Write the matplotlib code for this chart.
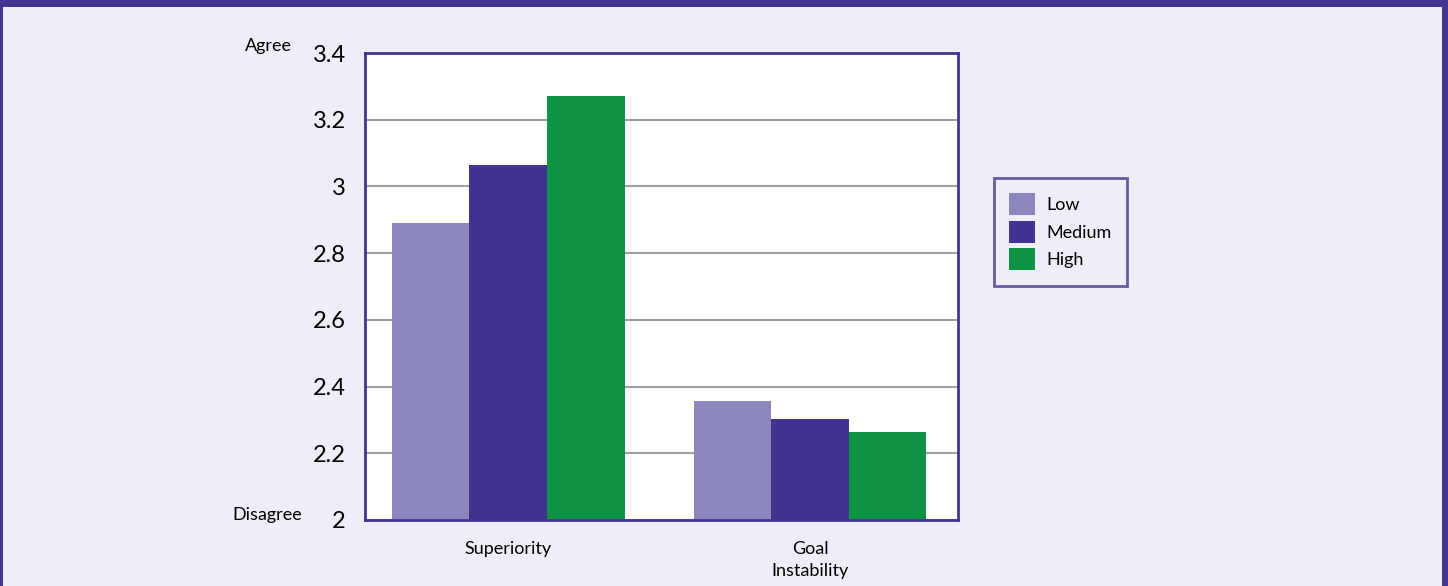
import matplotlib.pyplot as plt
from matplotlib.patches import Rectangle

categories = ["Superiority", "Goal\nInstability"]
levels = ["Low", "Medium", "High"]
low = [2.89, 2.357]
medium = [3.064, 2.303]
high = [3.27, 2.263]
yticks = [2, 2.2, 2.4, 2.6, 2.8, 3, 3.2, 3.4]

colors = ["#8B87BD", "#403391", "#0E9345"]
purple = "#43358F"
bg = "#EFEDF7"

plt.rcParams["font.family"] = ["Lato", "DejaVu Sans"]

fig = plt.figure(figsize=(14.48, 5.86), dpi=100, facecolor=bg)
ax = fig.add_axes([365 / 1448, 1 - 520 / 586, 593 / 1448, 467 / 586])

width = 0.257
x = list(range(len(categories)))
for i, (vals, name) in enumerate(zip([low, medium, high], levels)):
    xs = [c + (i - 1) * width for c in x]
    ax.bar(xs, vals, width=width, bottom=0, color=colors[i], label=name, zorder=3)

ax.set_ylim(2, 3.4)
ax.set_xlim(-0.474, 1.49)
ax.set_yticks(yticks)
ax.set_yticklabels(["2", "2.2", "2.4", "2.6", "2.8", "3", "3.2", "3.4"], fontsize=17)
ax.set_xticks(x)
ax.set_xticklabels(categories, fontsize=13, linespacing=1.45)
ax.tick_params(axis="both", length=0)
ax.tick_params(axis="y", pad=14)
ax.tick_params(axis="x", pad=15)
ax.yaxis.grid(True, color="#A0A0A0", linewidth=1.5, zorder=0)
ax.set_axisbelow(True)
for s in ax.spines.values():
    s.set_color(purple)
    s.set_linewidth(2)
    s.set_zorder(4)

fig.text(292 / 1448, 1 - 46 / 586, "Agree", ha="right", va="center", fontsize=13)
fig.text(302 / 1448, 1 - 515 / 586, "Disagree", ha="right", va="center", fontsize=13)

leg = fig.legend(loc="upper left", bbox_to_anchor=(994 / 1448, 1 - 178 / 586),
                 fontsize=13, frameon=True, fancybox=False, borderaxespad=0,
                 handlelength=1.4, handleheight=1.5, labelspacing=0.3,
                 handletextpad=0.67, borderpad=0.85)
leg.get_frame().set_edgecolor(purple)
leg.get_frame().set_linewidth(2)
leg.get_frame().set_facecolor(bg)

# page frame: thick band on top, thin rules at the sides
fig.add_artist(Rectangle((0, 1 - 7 / 586), 1, 7 / 586, transform=fig.transFigure,
                         color=purple, lw=0))
fig.add_artist(Rectangle((0, 0), 3 / 1448, 1, transform=fig.transFigure,
                         color=purple, lw=0))
fig.add_artist(Rectangle((1442 / 1448, 0), 6 / 1448, 1, transform=fig.transFigure,
                         color=purple, lw=0))

fig.savefig("out.png", dpi=100, facecolor=bg)
